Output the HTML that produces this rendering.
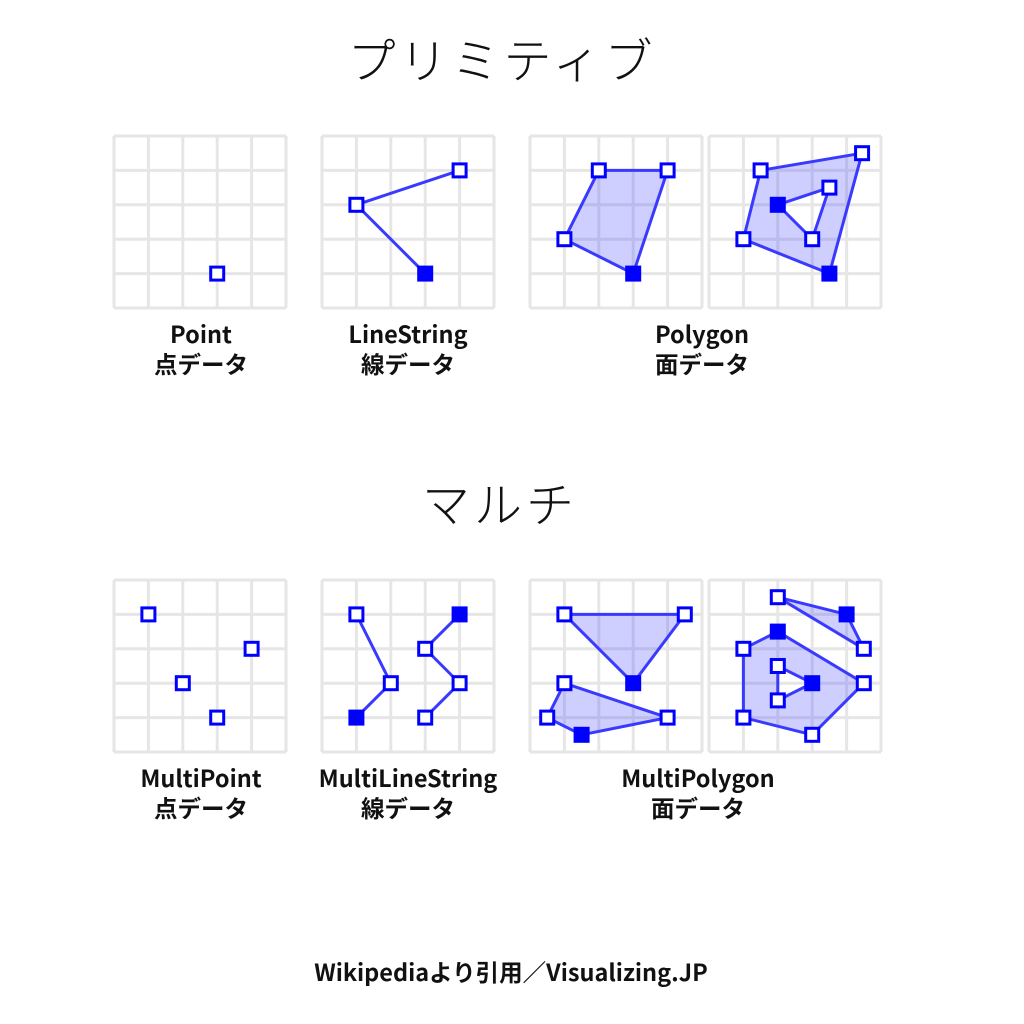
<!DOCTYPE html>
<html><head><meta charset="utf-8">
<style>
html,body{margin:0;padding:0;background:#fff;width:1024px;height:1024px;overflow:hidden;}
svg{display:block;}
.title{font-family:"Noto Sans CJK JP",sans-serif;font-size:48px;font-weight:300;fill:#111;letter-spacing:4px;}
.lab{font-family:"Noto Sans CJK JP",sans-serif;font-size:23.5px;font-weight:bold;fill:#111;}
</style></head>
<body>
<svg id="chart" width="1024" height="1024" viewBox="0 0 1024 1024">
<text class="title" x="502" y="78" text-anchor="middle">プリミティブ</text>
<text class="title" x="500" y="522" text-anchor="middle">マルチ</text>
<text class="lab" x="201" y="343" text-anchor="middle">Point</text>
<text class="lab" x="201" y="373" text-anchor="middle">点データ</text>
<text class="lab" x="408" y="343" text-anchor="middle">LineString</text>
<text class="lab" x="408" y="373" text-anchor="middle">線データ</text>
<text class="lab" x="702" y="343" text-anchor="middle">Polygon</text>
<text class="lab" x="702" y="373" text-anchor="middle">面データ</text>
<text class="lab" x="201" y="787" text-anchor="middle">MultiPoint</text>
<text class="lab" x="201" y="817" text-anchor="middle">点データ</text>
<text class="lab" x="408" y="787" text-anchor="middle">MultiLineString</text>
<text class="lab" x="408" y="817" text-anchor="middle">線データ</text>
<text class="lab" x="698" y="787" text-anchor="middle">MultiPolygon</text>
<text class="lab" x="698" y="817" text-anchor="middle">面データ</text>
<text class="lab" x="511" y="981" text-anchor="middle">Wikipediaより引用／Visualizing.JP</text>
</svg>
<script>
// panel origins
const panelX = [114,322,530,709,114,322,530,709];
const panelY = [136,136,136,136,580,580,580,580];
const panelNames = ['point','linestring','polygon-a','polygon-b','multipoint','multilinestring','multipolygon-a','multipolygon-b'];
// geometry in grid units
const pointData = [[3,4]];
const lineData = [[4,1],[1,2],[3,4]];
const lineFilled = [0,0,1];
const polyAOuter = [[2,1],[4,1],[3,4],[1,3]];
const polyAFilled = [0,0,1,0];
const polyBOuter = [[1.5,1],[4.45,0.5],[3.5,4],[1,3]];
const polyBFilled = [0,0,1,0];
const polyBHole = [[3.5,1.5],[2,2],[3,3]];
const polyBHoleFilled = [0,1,0];
const multiPointData = [[1,1],[4,2],[2,3],[3,4]];
const mLine1 = [[1,1],[2,3],[1,4]];
const mLine1Filled = [0,0,1];
const mLine2 = [[4,1],[3,2],[4,3],[3,4]];
const mLine2Filled = [1,0,0,0];
const mPolyTri = [[1,1],[4.5,1],[3,3]];
const mPolyTriFilled = [0,0,1];
const mPolyQuad = [[1,3],[0.5,4],[1.5,4.5],[4,4]];
const mPolyQuadFilled = [0,0,1,0];
const mPolySmall = [[2,0.5],[4,1],[4.5,2]];
const mPolySmallFilled = [0,1,0];
const mPolyBig = [[1,2],[2,1.5],[4.5,3],[3,4.5],[1,4]];
const mPolyBigFilled = [0,1,0,0,0];
const mPolyHole = [[2,2.5],[3,3],[2,3.5]];
const mPolyHoleFilled = [0,1,0];

const NS='http://www.w3.org/2000/svg';
const svg=document.getElementById('chart');
const CELL=34.4, SIZE=172;
function mk(tag,attrs,parent){const e=document.createElementNS(NS,tag);for(const k in attrs)e.setAttribute(k,attrs[k]);(parent||svg).appendChild(e);return e;}
function sx(p,v){return panelX[p]+v*CELL;}
function sy(p,v){return panelY[p]+v*CELL;}
const groups=[];
for(let p=0;p<8;p++){
  const g=mk('g',{});
  
  
  groups.push(g);
  mk('rect',{x:panelX[p],y:panelY[p],width:SIZE,height:SIZE,fill:'#fff'},g);
  for(let i=0;i<=5;i++){
    const a=mk('line',{x1:sx(p,i),y1:panelY[p],x2:sx(p,i),y2:panelY[p]+SIZE,stroke:'#e6e6e6','stroke-width':3},g);
    
    
    const b=mk('line',{x1:panelX[p],y1:sy(p,i),x2:panelX[p]+SIZE,y2:sy(p,i),stroke:'#e6e6e6','stroke-width':3},g);
    
    
  }
}
function ptsStr(p,arr){return arr.map(q=>sx(p,q[0])+','+sy(p,q[1])).join(' ');}
function poly(p,outer,hole){
  let d='M'+outer.map(q=>sx(p,q[0])+' '+sy(p,q[1])).join(' L')+' Z';
  if(hole)d+=' M'+hole.map(q=>sx(p,q[0])+' '+sy(p,q[1])).join(' L')+' Z';
  const e=mk('path',{d:d,fill:'rgba(60,60,255,0.25)','fill-rule':'evenodd',stroke:'#3a3aff','stroke-width':3,'stroke-linejoin':'round'},groups[p]);
  
  
}
function line(p,arr){
  const e=mk('polyline',{points:ptsStr(p,arr),fill:'none',stroke:'#3a3aff','stroke-width':3},groups[p]);
  
  
}
function verts(p,arr,filled){
  arr.forEach((q,i)=>{
    const f=filled&&filled[i];
    const e=mk('rect',{x:sx(p,q[0])-6.5,y:sy(p,q[1])-6.5,width:13,height:13,fill:f?'#0000ff':'#fff',stroke:'#0000ff','stroke-width':3},groups[p]);
    
    
  });
}
verts(0,pointData);
line(1,lineData); verts(1,lineData,lineFilled);
poly(2,polyAOuter); verts(2,polyAOuter,polyAFilled);
poly(3,polyBOuter,polyBHole); verts(3,polyBOuter,polyBFilled); verts(3,polyBHole,polyBHoleFilled);
verts(4,multiPointData);
line(5,mLine1); line(5,mLine2); verts(5,mLine1,mLine1Filled); verts(5,mLine2,mLine2Filled);
poly(6,mPolyTri); poly(6,mPolyQuad); verts(6,mPolyTri,mPolyTriFilled); verts(6,mPolyQuad,mPolyQuadFilled);
poly(7,mPolySmall); poly(7,mPolyBig,mPolyHole); verts(7,mPolySmall,mPolySmallFilled); verts(7,mPolyBig,mPolyBigFilled); verts(7,mPolyHole,mPolyHoleFilled);
</script>
</body></html>
